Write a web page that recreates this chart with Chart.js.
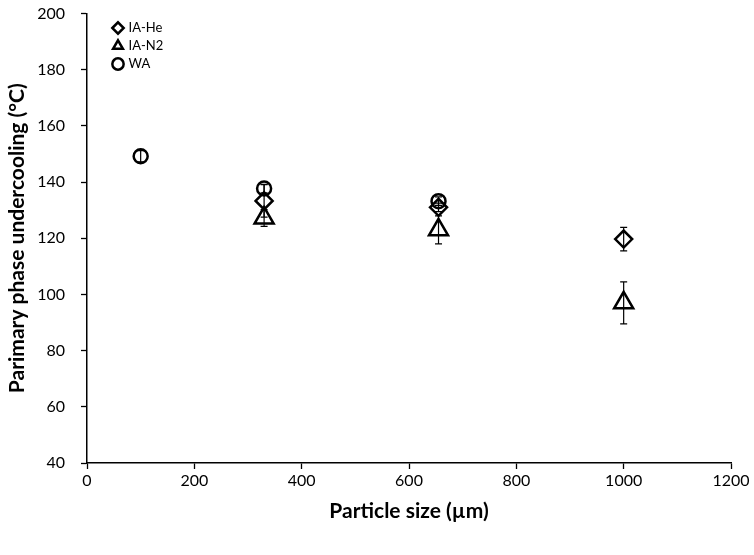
<!DOCTYPE html>
<html>
<head>
<meta charset="utf-8">
<script src="https://cdn.jsdelivr.net/npm/chart.js@4.4.1/dist/chart.umd.min.js"></script>
<style>
  html, body { margin: 0; padding: 0; background: #fff; }
  #wrap { width: 754px; height: 555px; }
</style>
</head>
<body>
<div id="wrap"><canvas id="chart"></canvas></div>
<script>
// particle sizes (µm)
var sizesWA = [100, 330, 655];
var sizesIA = [330, 655, 1000];

// primary phase undercooling (°C) and error bars
var wa = [149.2, 137.7, 133.2];
var waErr = [2, 1.5, 1.5];
var iaHe = [133.3, 131.0, 119.7];
var iaHeErr = [5.8, 1.5, 4.2];
var iaN2 = [127.2, 123.0, 97.0];
var iaN2Err = [3, 5, 7.5];

var xTicks = { min: 0, max: 1200, step: 200 };
var yTicks = { min: 40, max: 200, step: 20 };

function pts(xs, ys, errs) {
    var out = [];
    for (var i = 0; i < xs.length; i++) {
        out.push({ x: xs[i], y: ys[i], err: errs[i] });
    }
    return out;
}

var FONT = 'Lato, "Open Sans", sans-serif';

// vertical error bars, drawn under the hollow markers
var errorBars = {
    id: 'errorBars',
    beforeDatasetsDraw: function (chart) {
        var ctx = chart.ctx;
        var xs = chart.scales.x, ys = chart.scales.y;
        ctx.save();
        ctx.strokeStyle = '#000';
        ctx.lineWidth = 1.2;
        chart.data.datasets.forEach(function (ds) {
            ds.data.forEach(function (p) {
                var px = xs.getPixelForValue(p.x);
                var top = ys.getPixelForValue(p.y + p.err);
                var bot = ys.getPixelForValue(p.y - p.err);
                ctx.beginPath();
                ctx.moveTo(px, top); ctx.lineTo(px, bot);
                ctx.moveTo(px - 3.5, top); ctx.lineTo(px + 3.5, top);
                ctx.moveTo(px - 3.5, bot); ctx.lineTo(px + 3.5, bot);
                ctx.stroke();
            });
        });
        ctx.restore();
    }
};

// nudge the in-plot legend to where it sits in the figure
var legendNudge = {
    id: 'legendNudge',
    afterLayout: function (chart) {
        var lg = chart.legend;
        var dx = chart.chartArea.left + 22 - lg.left;
        var dy = chart.chartArea.top + 3 - lg.top;
        lg.left += dx; lg.right += dx;
        lg.top += dy; lg.bottom += dy;
    }
};

var ctx = document.getElementById('chart').getContext('2d');
var myChart = new Chart(ctx, {
    type: 'scatter',
    data: {
        datasets: [{
            label: 'IA-He',
            data: pts(sizesIA, iaHe, iaHeErr),
            pointStyle: 'rectRot',
            pointRadius: 8.5,
            borderColor: '#000',
            backgroundColor: 'rgba(0,0,0,0)',
            borderWidth: 2.5
        }, {
            label: 'IA-N2',
            data: pts(sizesIA, iaN2, iaN2Err),
            pointStyle: 'triangle',
            pointRadius: 11,
            borderColor: '#000',
            backgroundColor: 'rgba(0,0,0,0)',
            borderWidth: 2.5
        }, {
            label: 'WA',
            data: pts(sizesWA, wa, waErr),
            pointStyle: 'circle',
            pointRadius: 7,
            borderColor: '#000',
            backgroundColor: 'rgba(0,0,0,0)',
            borderWidth: 2.5
        }]
    },
    options: {
        responsive: true,
        maintainAspectRatio: false,
        animation: false,
        layout: { padding: { top: 10, right: 23, bottom: 0, left: 0 } },
        plugins: {
            legend: {
                position: 'chartArea',
                align: 'start',
                labels: {
                    usePointStyle: true,
                    boxWidth: 8,
                    boxHeight: 8,
                    padding: 5,
                    color: '#000',
                    font: { family: FONT, size: 13 }
                }
            },
            tooltip: { enabled: false }
        },
        scales: {
            x: {
                type: 'linear',
                min: xTicks.min,
                max: xTicks.max,
                afterFit: function (s) { s.height = 92; },
                ticks: {
                    stepSize: xTicks.step, color: '#000', padding: 2,
                    font: { family: FONT, size: 16 },
                    callback: function (v) { return String(v); }
                },
                grid: { drawOnChartArea: false, drawTicks: true, tickLength: 6, color: '#000', tickWidth: 1.3 },
                border: { display: true, color: '#000', width: 1.5 },
                title: {
                    display: true,
                    text: 'Particle size (µm)',
                    color: '#000',
                    padding: { top: 4, bottom: 31 },
                    font: { family: FONT, size: 21, weight: 'bold' }
                }
            },
            y: {
                min: yTicks.min,
                max: yTicks.max,
                // tick padding would otherwise also pad the top of the plot
                afterFit: function (s) { s.width = 87; s.paddingTop = 0; s.paddingBottom = 0; },
                ticks: {
                    stepSize: yTicks.step, color: '#000', padding: 16,
                    font: { family: FONT, size: 16 },
                    callback: function (v) { return String(v); }
                },
                grid: { drawOnChartArea: false, drawTicks: true, tickLength: 6, color: '#000', tickWidth: 1.3 },
                border: { display: true, color: '#000', width: 1.5 },
                title: {
                    display: true,
                    text: 'Parimary phase undercooling (°C)',
                    color: '#000',
                    padding: { top: 5, bottom: 2 },
                    font: { family: FONT, size: 21, weight: 'bold' }
                }
            }
        }
    },
    plugins: [errorBars, legendNudge]
});
</script>
</body>
</html>
